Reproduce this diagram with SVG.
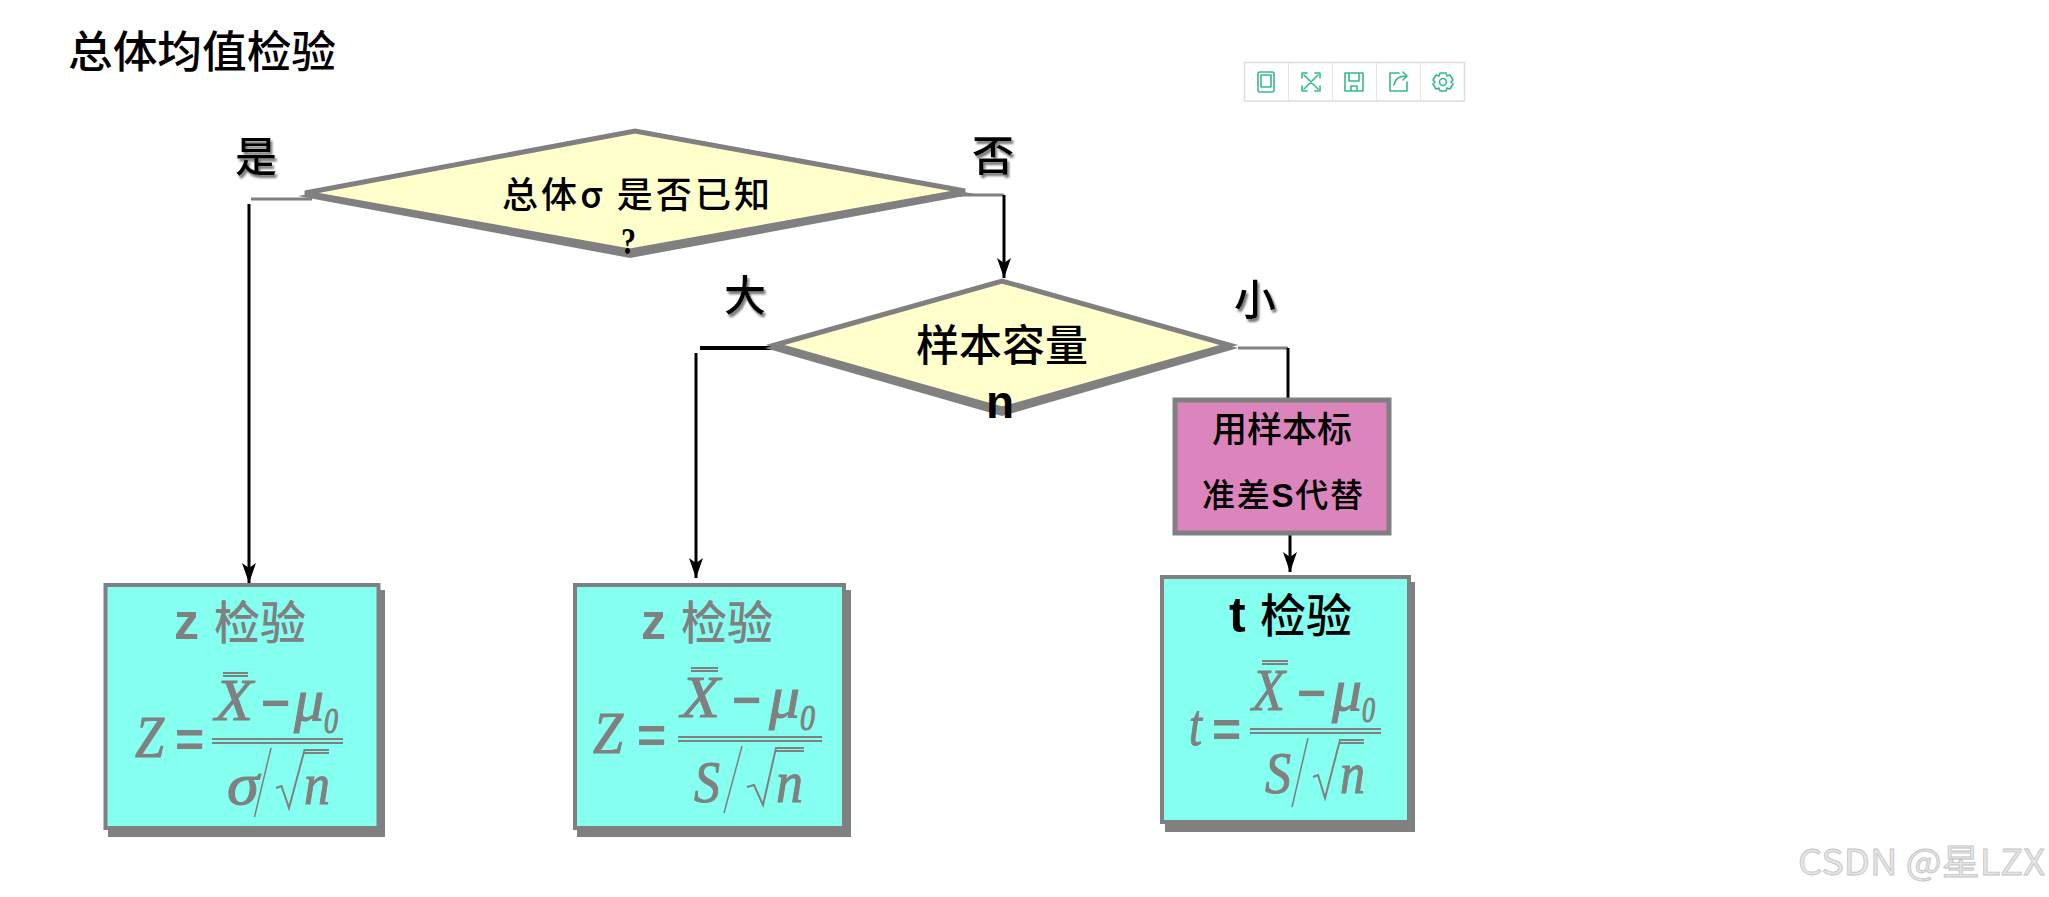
<svg xmlns="http://www.w3.org/2000/svg" width="2049" height="897" viewBox="0 0 2049 897">
<defs>
<marker id="arrow" markerUnits="userSpaceOnUse" markerWidth="20" markerHeight="16" refX="20" refY="8" orient="auto" viewBox="0 0 20 16"><path d="M0 1L5 8L0 15L20 8Z" fill="#000"/></marker>
<filter id="sh" x="-30%" y="-30%" width="170%" height="170%"><feDropShadow dx="2" dy="3" stdDeviation="1.200" flood-color="#777"/></filter>
</defs>
<style>
text{font-family:"Noto Sans CJK SC","Liberation Sans",sans-serif;fill:#000;font-weight:500}
.c{text-anchor:middle}
.lab{font-size:42px;filter:url(#sh)}
.bold{font-family:"Liberation Sans","Noto Sans CJK SC",sans-serif;font-weight:700}
.head{font-size:46px}
.gray{fill:#808080}
.m{font-family:"Liberation Serif","DejaVu Serif",serif;font-style:italic;fill:#808080;font-size:60px;stroke:#808080;stroke-width:1;font-weight:400}
.op{font-family:"Liberation Sans",sans-serif;font-weight:700;fill:#808080;font-size:50px}
.sub{font-size:36px}
.box{fill:#85fff0;stroke:#808080;stroke-width:4}
.shadow{fill:#808080}
.dia{fill:#ffffcc;stroke:#808080;stroke-width:5;stroke-linejoin:miter}
.frac{stroke:#808080;stroke-width:2;fill:none}
.line{stroke:#000;stroke-width:3;fill:none}
.stub{stroke:#808080;stroke-width:3;fill:none}
.tool{fill:none;stroke:#35ba8e;stroke-width:1.600;stroke-linejoin:round;stroke-linecap:round}
</style>
<rect width="2049" height="897" fill="#fff"/>
<text id="title" x="68" y="68" font-size="44" textLength="268" lengthAdjust="spacingAndGlyphs">总体均值检验</text>

<g id="toolbar">
<rect x="1244.500" y="62.500" width="220" height="38.500" fill="#fff" stroke="#ddd" stroke-width="1.500"/>
<path d="M1288.500 63V101M1332.500 63V101M1376.500 63V101M1420.500 63V101" stroke="#e6e6e6" fill="none"/>
<g class="tool">
<rect x="1258" y="72" width="16" height="20" rx="2"/><rect x="1261" y="75" width="10" height="12"/>
<path d="M1304 75L1318 89M1318 75L1304 89M1302 78V73H1307M1315 73H1320V78M1320 86V91H1315M1307 91H1302V86"/>
<path d="M1345 73H1363V91H1345ZM1349 73V81H1359V73M1351 91V86H1357V91"/>
<path d="M1399 73H1390V91H1407V82M1394 85C1395 78 1400 76 1407 76M1403 72L1407 76L1403 80"/>
<circle cx="1443" cy="82" r="3.500"/><path d="M1440 73H1446L1447 76L1450 75L1453 80L1451 82L1453 84L1450 89L1447 88L1446 91H1440L1439 88L1436 89L1433 84L1435 82L1433 80L1436 75L1439 76Z"/>
</g>
</g>

<g id="connectors">
<path class="stub" d="M251 199H312"/>
<path class="line" d="M249 204V583" marker-end="url(#arrow)"/>
<path class="stub" d="M958 195H1004"/>
<path class="line" d="M1004 195V278" marker-end="url(#arrow)"/>
<path d="M700 348H779" stroke="#000" stroke-width="4" fill="none"/>
<path class="line" d="M696 353V578" marker-end="url(#arrow)"/>
<path class="stub" d="M1238 348H1288"/>
<path class="line" d="M1288 348V398"/>
<path class="line" d="M1290 535V572" marker-end="url(#arrow)"/>
</g>

<g id="decision-known">
<polygon class="shadow" points="298,196 635,132 975,194 630,258"/>
<polygon class="dia" points="305,193 635,131 965,191 630,251"/>
<text x="502" y="208" font-size="36" textLength="268" lengthAdjust="spacing">总体σ 是否已知</text>
<text x="621" y="254" font-size="38" textLength="15" lengthAdjust="spacingAndGlyphs" style="font-family:'Liberation Serif',serif;font-weight:700">?</text>
</g>
<text id="label-yes" class="c lab" x="256" y="172">是</text>
<text id="label-no" class="c lab" x="993" y="171">否</text>

<g id="decision-size">
<polygon class="shadow" points="765,348 1002,280 1238,348 1002,416"/>
<polygon class="dia" points="775,345 1002,281 1229,345 1002,409"/>
<text class="c" x="1002" y="361" font-size="43">样本容量</text>
<text class="c bold" x="1000" y="418" font-size="46">n</text>
</g>
<text id="label-large" class="c lab" x="745" y="311">大</text>
<text id="label-small" class="c lab" x="1255" y="315">小</text>

<g id="process-replace">
<rect x="1175" y="400" width="214" height="133" fill="#dc84bc" stroke="#808080" stroke-width="5"/>
<text class="c" x="1282" y="442" font-size="35">用样本标</text>
<text x="1202" y="507" font-size="33" textLength="161" lengthAdjust="spacing">准差<tspan class="bold">S</tspan>代替</text>
</g>

<g id="z-test-known">
<rect class="shadow" x="108" y="590" width="277" height="247"/>
<rect class="box" x="105.500" y="585" width="273" height="243"/>
<text class="bold gray" x="174" y="639" font-size="50">z</text>
<text class="gray head" x="214" y="639">检验</text>
<text class="m" x="135" y="757" textLength="29" lengthAdjust="spacingAndGlyphs">Z</text>
<text class="op" x="175" y="757">=</text>
<path class="frac" d="M223 673H248M223 676H248"/>
<text class="m" x="215" y="720" textLength="38" lengthAdjust="spacingAndGlyphs">X</text>
<text class="op" x="261" y="720">−</text>
<text class="m" x="294" y="720" textLength="30" lengthAdjust="spacingAndGlyphs">μ</text>
<text class="m sub" x="324" y="733" textLength="14" lengthAdjust="spacingAndGlyphs">0</text>
<path class="frac" d="M212 739H343M212 743H343"/>
<text class="m" x="227" y="804" textLength="32" lengthAdjust="spacingAndGlyphs">σ</text>
<path class="frac" style="stroke-width:1.500" d="M271 748L254.500 817"/>
<path class="frac" d="M276 788L281.500 786L289 808L304.500 750H329M304.500 753H329"/>
<text class="m" x="304" y="804" textLength="26" lengthAdjust="spacingAndGlyphs">n</text>
</g>

<g id="z-test-unknown">
<rect class="shadow" x="577" y="590" width="274" height="247"/>
<rect class="box" x="575" y="585" width="269" height="243"/>
<text class="bold gray" x="641" y="639" font-size="50">z</text>
<text class="gray head" x="681" y="639">检验</text>
<text class="m" x="593" y="753" textLength="30" lengthAdjust="spacingAndGlyphs">Z</text>
<text class="op" x="637" y="753">=</text>
<path class="frac" d="M691 668H718M691 671H718"/>
<text class="m" x="681" y="717" textLength="39" lengthAdjust="spacingAndGlyphs">X</text>
<text class="op" x="732" y="717">−</text>
<text class="m" x="769" y="717" textLength="31" lengthAdjust="spacingAndGlyphs">μ</text>
<text class="m sub" x="800" y="730" textLength="15" lengthAdjust="spacingAndGlyphs">0</text>
<path class="frac" d="M678 737H822M678 741H822"/>
<text class="m" x="694" y="802" textLength="26" lengthAdjust="spacingAndGlyphs">S</text>
<path class="frac" style="stroke-width:1.500" d="M742 746L724 813"/>
<path class="frac" d="M747 787L754 785L763 805L776 748H804M776 751H804"/>
<text class="m" x="776" y="802" textLength="27" lengthAdjust="spacingAndGlyphs">n</text>
</g>

<g id="t-test">
<rect class="shadow" x="1165" y="582" width="250" height="250"/>
<rect class="box" x="1162" y="577" width="247" height="245"/>
<text class="bold" x="1229" y="632" font-size="50">t</text>
<text class="head" x="1260" y="632">检验</text>
<text class="m" x="1189" y="745" textLength="13" lengthAdjust="spacingAndGlyphs">t</text>
<text class="op" x="1212" y="747">=</text>
<path class="frac" d="M1262 661H1288M1262 664H1288"/>
<text class="m" x="1252" y="710" textLength="33" lengthAdjust="spacingAndGlyphs">X</text>
<text class="op" x="1297" y="710">−</text>
<text class="m" x="1332" y="710" textLength="30" lengthAdjust="spacingAndGlyphs">μ</text>
<text class="m sub" x="1362" y="722" textLength="13" lengthAdjust="spacingAndGlyphs">0</text>
<path class="frac" d="M1250 729H1381M1250 733H1381"/>
<text class="m" x="1265" y="793" textLength="26" lengthAdjust="spacingAndGlyphs">S</text>
<path class="frac" style="stroke-width:1.500" d="M1308 738L1292 807"/>
<path class="frac" d="M1313 777L1318 775L1325 798L1340 740H1364M1340 743H1364"/>
<text class="m" x="1340" y="793" textLength="25" lengthAdjust="spacingAndGlyphs">n</text>
</g>

<text id="watermark" x="1798" y="875" font-size="36" textLength="247" lengthAdjust="spacingAndGlyphs" style="fill:#e6e6e6;stroke:#c4c4c4;stroke-width:.8;font-weight:400">CSDN @星LZX</text>
</svg>
